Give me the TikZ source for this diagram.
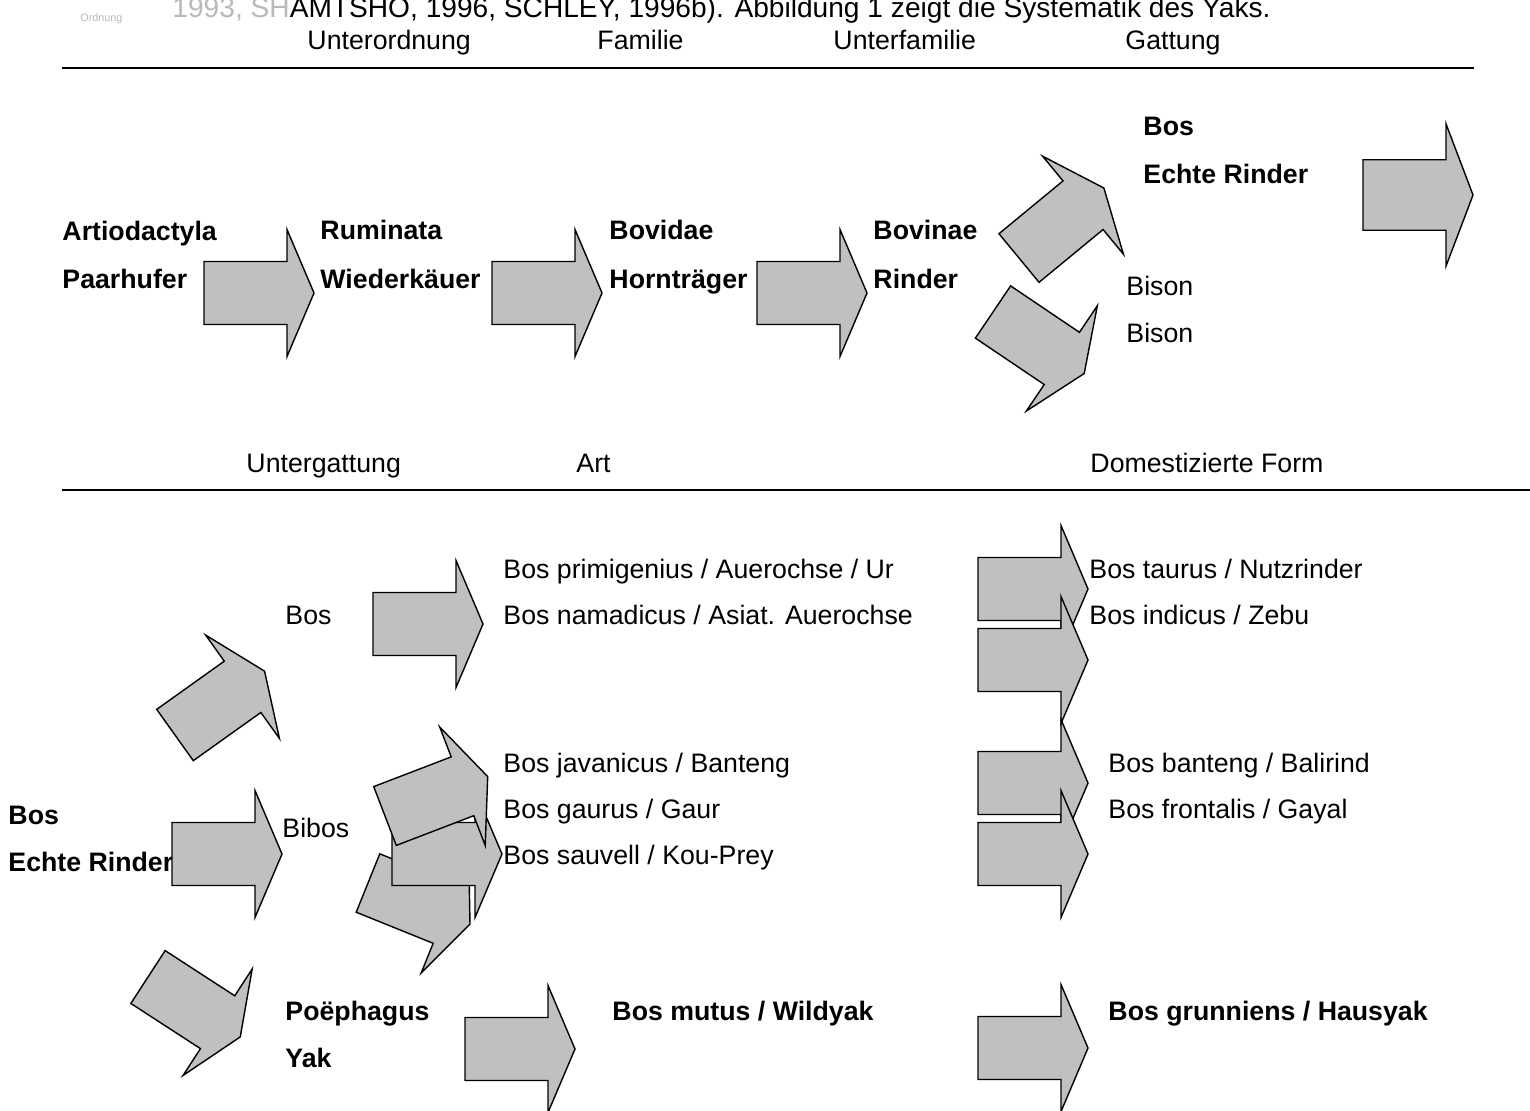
\documentclass[tikz,border=0pt]{standalone}
\usepackage{fontspec}
\setmainfont{Liberation Sans}
\usepackage{tikz}
\definecolor{arrowfill}{RGB}{192,192,192}
\definecolor{ghostgray}{RGB}{185,185,185}
\newcommand{\blockarrow}[3]{
    % #1,#2 = middle of the back edge, #3 = angle
    \begin{scope}[shift={(#1,#2)},rotate=#3]
        \filldraw[arrowfill,draw=black,line width=0.6pt,line join=miter]
            (0,-31.5) -- (83,-31.5) -- (83,-63.5) -- (110,0)
            -- (83,63.5) -- (83,31.5) -- (0,31.5) -- cycle;
    \end{scope}
}

\begin{document}
\begin{tikzpicture}[x=0.15mm,y=-0.15mm,
    txt/.style={anchor=base west,inner sep=0pt,font=\fontsize{11.4}{13.7}\selectfont},
    txtb/.style={txt,font=\fontsize{11.4}{13.7}\selectfont\bfseries},
    rule/.style={line width=0.8pt}]

\useasboundingbox (0,0) rectangle (1530,1110);

% Text line cut off by the top edge
\begin{scope}
    \clip (0,0) rectangle (1530,1110);
    \node[txt,font=\fontsize{12}{14}\selectfont] (citeline) at (172,17)
        {\makebox[164.7mm][s]{\textcolor{ghostgray}{1993, SH}AMTSHO, 1996, SCHLEY, 1996b). Abbildung 1 zeigt die Systematik des Yaks.}};
    \node[anchor=base west,inner sep=0pt,font=\fontsize{4.6}{5}\selectfont,text=ghostgray] (ordnung) at (80,21) {Ordnung};
\end{scope}

% Column headings, upper part
\node[txt] (hunterord) at (307,49) {Unterordnung};
\node[txt] (hfamilie) at (597,49) {Familie};
\node[txt] (hunterfam) at (833,49) {Unterfamilie};
\node[txt] (hgattung) at (1125,49) {Gattung};
\draw[rule] (62,68) -- (1474,68);

% Upper chain
\node[txtb] (artio) at (62,240) {Artiodactyla};
\node[txtb] (paarhufer) at (62,288) {Paarhufer};
\node[txtb] (ruminata) at (320,239) {Ruminata};
\node[txtb] (wiederk) at (320,288) {Wiederkäuer};
\node[txtb] (bovidae) at (609,239) {Bovidae};
\node[txtb] (horntr) at (609,288) {Hornträger};
\node[txtb] (bovinae) at (873,239) {Bovinae};
\node[txtb] (rinder) at (873,288) {Rinder};
\node[txtb] (bosgen) at (1143,135) {Bos};
\node[txtb] (echtegen) at (1143,183) {Echte Rinder};
\node[txt] (bisona) at (1126,295) {Bison};
\node[txt] (bisonb) at (1126,342) {Bison};

\blockarrow{204}{293}{0}
\blockarrow{492}{293}{0}
\blockarrow{757}{293}{0}
\blockarrow{1019}{258}{39.5}
\blockarrow{993}{312}{-34}
\begin{scope}[shift={(1363,195)},yscale=1.12]
    \blockarrow{0}{0}{0}
\end{scope}

% Column headings, lower part
\node[txt] (huntergatt) at (246,472) {Untergattung};
\node[txt] (hart) at (576,472) {Art};
\node[txt] (hdomest) at (1090,472) {Domestizierte Form};
\draw[rule] (62,490) -- (1530,490);

% Lower part: Untergattung / Art / domestizierte Form
\node[txtb] (bosleft) at (8,824) {Bos};
\node[txtb] (echteleft) at (8,871) {Echte Rinder};
\node[txt] (bosug) at (285,624) {Bos};
\node[txt] (bibos) at (282,837) {Bibos};
\node[txtb] (poeph) at (285,1020) {Poëphagus};
\node[txtb] (yak) at (285,1067) {Yak};

\node[txt] (primig) at (503,578) {Bos primigenius / Auerochse / Ur};
\node[txt] (namad) at (503,624) {Bos namadicus / Asiat. Auerochse};
\node[txt] (javan) at (503,772) {Bos javanicus / Banteng};
\node[txt] (gaurus) at (503,818) {Bos gaurus / Gaur};
\node[txt] (sauvell) at (503,864) {Bos sauvell / Kou-Prey};
\node[txtb] (mutus) at (612,1020) {Bos mutus / Wildyak};

\node[txt] (taurus) at (1089,578) {Bos taurus / Nutzrinder};
\node[txt] (indicus) at (1089,624) {Bos indicus / Zebu};
\node[txt] (banteng) at (1108,772) {Bos banteng / Balirind};
\node[txt] (frontalis) at (1108,818) {Bos frontalis / Gayal};
\node[txtb] (grunn) at (1108,1020) {Bos grunniens / Hausyak};

% Arrows from Echte Rinder
\blockarrow{175}{735}{35.5}
\blockarrow{172}{854}{0}
\blockarrow{148}{977}{-33}

% Arrows to the species
\blockarrow{373}{624}{0}
\blockarrow{368}{883}{-22}
\blockarrow{392}{854}{0}
\blockarrow{385}{816}{21}
\blockarrow{465}{1049}{0}

% Arrows to the domestic forms
\blockarrow{978}{589}{0}
\blockarrow{978}{660}{0}
\blockarrow{978}{783}{0}
\blockarrow{978}{854}{0}
\blockarrow{978}{1048}{0}

\end{tikzpicture}
\end{document}
